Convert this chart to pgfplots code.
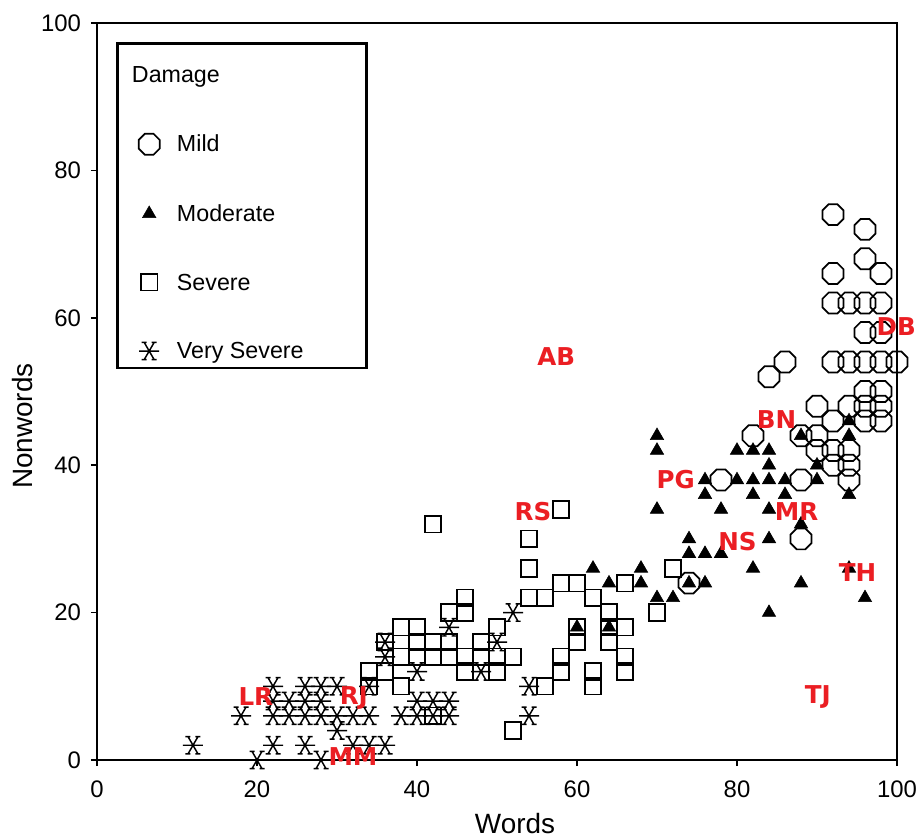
\documentclass[border=0pt]{standalone}
\usepackage{fontspec}
\setmainfont{Liberation Sans}
\newfontfamily\labfont{DejaVu Sans}
\usepackage{pgfplots}
\pgfplotsset{compat=1.18}
\definecolor{labred}{RGB}{235,30,35}

\pgfdeclareplotmark{octagon}{%
  \pgfpathmoveto{\pgfqpointpolar{22.5}{\pgfplotmarksize}}%
  \pgfpathlineto{\pgfqpointpolar{67.5}{\pgfplotmarksize}}%
  \pgfpathlineto{\pgfqpointpolar{112.5}{\pgfplotmarksize}}%
  \pgfpathlineto{\pgfqpointpolar{157.5}{\pgfplotmarksize}}%
  \pgfpathlineto{\pgfqpointpolar{202.5}{\pgfplotmarksize}}%
  \pgfpathlineto{\pgfqpointpolar{247.5}{\pgfplotmarksize}}%
  \pgfpathlineto{\pgfqpointpolar{292.5}{\pgfplotmarksize}}%
  \pgfpathlineto{\pgfqpointpolar{337.5}{\pgfplotmarksize}}%
  \pgfpathclose
  \pgfusepathqstroke
}
\pgfdeclareplotmark{vstar}{%
  \pgfpathmoveto{\pgfqpoint{-\pgfplotmarksize}{0pt}}%
  \pgfpathlineto{\pgfqpoint{\pgfplotmarksize}{0pt}}%
  \pgfpathmoveto{\pgfqpoint{0.5\pgfplotmarksize}{0.866\pgfplotmarksize}}%
  \pgfpathlineto{\pgfqpoint{-0.5\pgfplotmarksize}{-0.866\pgfplotmarksize}}%
  \pgfpathmoveto{\pgfqpoint{-0.5\pgfplotmarksize}{0.866\pgfplotmarksize}}%
  \pgfpathlineto{\pgfqpoint{0.5\pgfplotmarksize}{-0.866\pgfplotmarksize}}%
  \pgfpathmoveto{\pgfqpoint{0.25\pgfplotmarksize}{0.866\pgfplotmarksize}}%
  \pgfpathlineto{\pgfqpoint{0.75\pgfplotmarksize}{0.866\pgfplotmarksize}}%
  \pgfpathmoveto{\pgfqpoint{-0.25\pgfplotmarksize}{0.866\pgfplotmarksize}}%
  \pgfpathlineto{\pgfqpoint{-0.75\pgfplotmarksize}{0.866\pgfplotmarksize}}%
  \pgfpathmoveto{\pgfqpoint{0.25\pgfplotmarksize}{-0.866\pgfplotmarksize}}%
  \pgfpathlineto{\pgfqpoint{0.75\pgfplotmarksize}{-0.866\pgfplotmarksize}}%
  \pgfpathmoveto{\pgfqpoint{-0.25\pgfplotmarksize}{-0.866\pgfplotmarksize}}%
  \pgfpathlineto{\pgfqpoint{-0.75\pgfplotmarksize}{-0.866\pgfplotmarksize}}%
  \pgfusepathqstroke
}

\begin{document}
\begin{tikzpicture}
\path[use as bounding box] (-72.75bp,-58.5bp) rectangle (614.25bp,570bp);
\begin{axis}[
  at={(0,0)}, anchor=south west,
  width=600bp, height=552.75bp, scale only axis,
  xmin=0, xmax=100, ymin=0, ymax=100,
  xtick={0,20,...,100}, ytick={0,20,...,100},
  tick align=outside, xtick pos=bottom, ytick pos=left,
  major tick length=4.5bp,
  axis line style={line width=1.3bp},
  every tick/.append style={black, line width=1.3bp},
  tick label style={font=\fontsize{18}{20}\selectfont},
  /pgf/number format/assume math mode=true,
  xticklabel style={yshift=-7.5bp},
  yticklabel style={xshift=-4bp},
  xlabel={Words}, ylabel={Nonwords},
  label style={font=\fontsize{21}{24}\selectfont},
  xlabel style={at={(axis description cs:0.5225,-0.086)}, anchor=center},
  ylabel style={at={(axis description cs:-0.0925,0.453)}, anchor=center},
  clip=false,
  legend cell align=left,
  legend image code/.code={\draw[mark repeat=2,mark phase=2,#1] plot coordinates {(0bp,0bp) (8bp,0bp) (16bp,0bp)};},
  legend style={at={(axis description cs:0.0234,0.9738)}, anchor=north west,
    draw=black, line width=2.2bp, inner xsep=16bp, inner ysep=5.5bp,
    font=\fontsize{17.5}{20}\selectfont,
    nodes={inner sep=0pt}, row sep=37bp, /tikz/column sep=13bp},
]
\addlegendimage{empty legend}
\addlegendentry{\hspace*{-33.75bp}\rule[-4bp]{0pt}{27.5bp}Damage}

\addplot[only marks, mark=octagon, mark size=8.5bp, mark options={line width=1.3bp, draw=black, fill=none}] table {
x y
92 74
96 72
96 68
98 66
92 66
92 62
94 62
96 62
98 62
96 58
98 58
86 54
92 54
94 54
96 54
98 54
100 54
84 52
96 50
98 50
90 48
94 48
96 48
98 48
92 46
96 46
98 46
82 44
88 44
90 44
90 42
92 42
94 42
92 40
94 40
94 38
78 38
88 38
88 30
74 24
};
\addlegendentry{\rule[-4bp]{0pt}{17bp}Mild}

\addplot[only marks, mark=triangle*, mark size=5.8bp, mark options={line width=0.4bp, draw=black, fill=black}] table {
x y
70 44
70 42
80 42
82 42
84 42
84 40
76 38
80 38
82 38
84 38
86 38
90 38
76 36
82 36
86 36
70 34
78 34
84 34
88 32
74 30
84 30
74 28
76 28
78 28
82 26
68 26
68 24
74 24
76 24
88 24
70 22
72 22
84 20
88 44
94 46
94 44
90 40
94 36
94 26
96 22
62 26
64 24
60 18
64 18
};
\addlegendentry{\rule[-4bp]{0pt}{17bp}Moderate}

\addplot[only marks, mark=square, mark size=6.2bp, mark options={line width=1.3bp, draw=black, fill=none}] table {
x y
42 32
58 34
54 30
54 26
54 22
56 22
58 24
60 24
62 22
64 20
66 24
72 26
70 20
66 18
64 16
60 16
60 18
64 18
66 14
66 12
58 14
58 12
56 10
62 12
62 10
50 18
52 14
50 14
50 12
52 4
46 22
46 20
44 20
38 18
40 18
36 16
40 16
42 16
44 16
42 14
44 14
46 14
46 12
48 14
48 16
38 14
40 14
34 12
36 12
34 10
38 10
42 6
};
\addlegendentry{\rule[-4bp]{0pt}{17bp}Severe}

\addplot[only marks, mark=vstar, mark size=7.5bp, mark options={line width=1.1bp, draw=black}] table {
x y
12 2
18 6
20 0
22 10
22 8
22 6
22 2
24 6
24 8
26 10
26 8
26 6
26 2
28 10
28 8
28 6
28 0
30 10
30 6
30 4
32 6
32 2
34 10
34 6
34 2
36 2
36 16
36 14
38 6
40 12
40 8
40 6
42 8
42 6
44 8
44 6
44 18
48 12
50 16
52 20
54 10
54 6
};
\addlegendentry{\makebox[126bp][l]{\rule[-4bp]{0pt}{17bp}Very Severe}}

\addplot[forget plot, only marks, mark=none, point meta=explicit symbolic,
  nodes near coords={\pgfplotspointmeta},
  nodes near coords style={anchor=center, inner sep=0pt, text=labred, font=\labfont\bfseries\fontsize{18.5}{20}\selectfont}]
  table[meta=label] {
x y label
57.4 54.7 AB
99.9 58.8 DB
84.95 46.2 BN
72.35 38.0 PG
54.5 33.7 RS
87.45 33.7 MR
80.06 29.6 NS
95.06 25.5 TH
90.1 8.6 TJ
19.85 8.6 LR
32.1 8.4 RJ
32.0 0.45 MM
};
\end{axis}
\end{tikzpicture}
\end{document}
